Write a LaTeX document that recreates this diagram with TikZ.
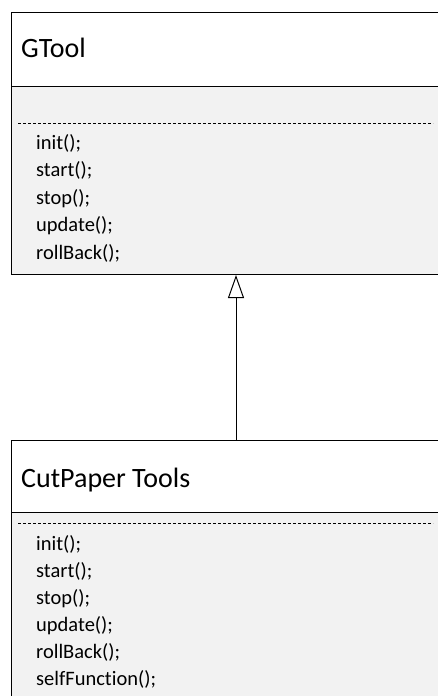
\documentclass[tikz,border=0pt]{standalone}
\usepackage{fontspec}
\setmainfont{Carlito}[Ligatures=NoCommon]
\usetikzlibrary{arrows.meta}
\definecolor{bodygray}{HTML}{F2F2F2}
\begin{document}
\begin{tikzpicture}[x=1pt,y=-1pt,
  head/.style={draw=black, fill=white, line width=1pt, anchor=north west,
    minimum width=449pt, inner sep=0pt},
  body/.style={draw=black, fill=bodygray, line width=1pt, anchor=north west,
    minimum width=449pt, inner sep=0pt},
  ttl/.style={anchor=base west, font=\fontsize{28}{33}\selectfont, inner sep=0pt},
  meth/.style={anchor=base west, font=\fontsize{20.5}{27}\selectfont, inner sep=0pt},
  sepline/.style={dash pattern=on 3pt off 2pt, line width=1pt, draw=black},
  inherit/.style={-{Triangle[open, fill=white, width=16pt, length=23pt]}, line width=1pt}
]
\useasboundingbox (0,0) rectangle (438,696);
\clip (0,0) rectangle (438,696);

% GTool class
\node[head, minimum height=74pt] (gthead) at (11,12) {};
\node[body, minimum height=188pt] (gtbody) at (11,86) {};
\node[ttl] (gttitle) at (21,57) {GTool};
\draw[sepline] (18,123) -- (433,123);
\node[meth] (g1) at (36,149) {init();};
\node[meth] (g2) at (36,176.5) {start();};
\node[meth] (g3) at (36,204) {stop();};
\node[meth] (g4) at (36,231.5) {update();};
\node[meth] (g5) at (36,259) {rollBack();};

% CutPaper Tools class
\node[head, minimum height=72pt] (cphead) at (11,440) {};
\node[body, minimum height=280pt] (cpbody) at (11,512) {};
\node[ttl] (cptitle) at (21,487) {CutPaper Tools};
\draw[sepline] (18,523) -- (433,523);
\node[meth] (c1) at (36,550) {init();};
\node[meth] (c2) at (36,577) {start();};
\node[meth] (c3) at (36,604) {stop();};
\node[meth] (c4) at (36,631) {update();};
\node[meth] (c5) at (36,658) {rollBack();};
\node[meth] (c6) at (36,685) {selfFunction();};

% inheritance
\draw[inherit] (cphead.north) -- (gtbody.south);
\end{tikzpicture}
\end{document}
